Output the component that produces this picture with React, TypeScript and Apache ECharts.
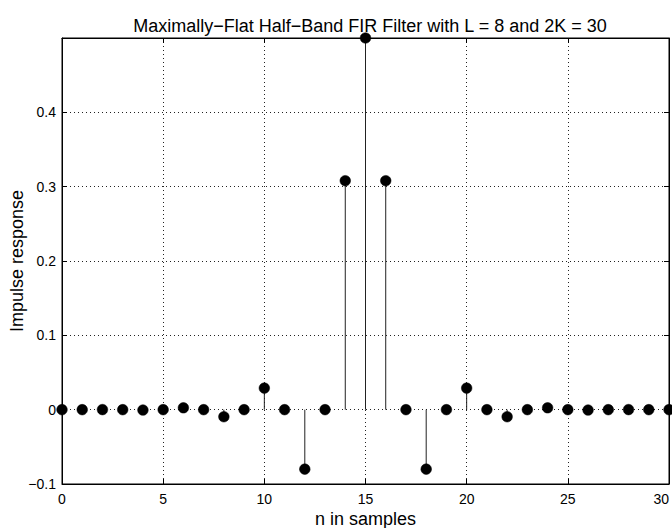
import React, { useEffect, useRef } from "react";
import * as echarts from "echarts";

const samples: number[] = [0, 1, 2, 3, 4, 5, 6, 7, 8, 9, 10, 11, 12, 13, 14, 15, 16, 17, 18, 19, 20, 21, 22, 23, 24, 25, 26, 27, 28, 29, 30];
const impulse: number[] = [
  0.0, 0, 0.0001, 0, -0.0005, 0, 0.0025, 0, -0.0095, 0, 0.029, 0, -0.08, 0, 0.308,
  0.5,
  0.308, 0, -0.08, 0, 0.029, 0, -0.0095, 0, 0.0025, 0, -0.0005, 0, 0.0001, 0, 0.0,
];
const xTicks: number[] = [0, 5, 10, 15, 20, 25, 30];
const yTicks: number[] = [-0.1, 0, 0.1, 0.2, 0.3, 0.4];

const FONT = "Liberation Sans, Arial, Helvetica, sans-serif";

export default function App() {
  const ref = useRef<HTMLDivElement>(null);
  useEffect(() => {
    if (!ref.current) return;
    const chart = echarts.init(ref.current, undefined, { renderer: "svg" });
    const fmtY = (v: number) => {
      const r = Math.round(v * 10) / 10;
      if (!yTicks.some((t) => Math.abs(t - r) < 1e-9)) return "";
      if (Math.abs(r) < 1e-9) return "0";
      return r < 0 ? "\u2212" + Math.abs(r).toString() : r.toString();
    };
    const fmtX = (v: number) => (xTicks.includes(v) ? String(v) : "");
    const gridLine = { show: true, lineStyle: { color: "#222", type: [1, 3] as any, width: 1 } };
    chart.setOption({
      animation: false,
      backgroundColor: "#fff",
      textStyle: { fontFamily: FONT },
      title: {
        text: "Maximally\u2212Flat Half\u2212Band FIR Filter with L = 8 and 2K = 30",
        left: 365,
        textAlign: "center",
        top: 12,
        textStyle: { fontSize: 18, fontWeight: "normal", color: "#000", fontFamily: FONT },
      },
      grid: {
        left: 62, right: 3, top: 38, bottom: 44,
        containLabel: false,
        outerBoundsMode: "none",
        show: true, borderColor: "#000", borderWidth: 1,
      },
      xAxis: [
        {
          type: "value",
          min: 0,
          max: 30,
          interval: 5,
          position: "bottom",
          name: "n in samples",
          nameLocation: "middle",
          nameGap: 26,
          nameMoveOverlap: false,
          nameTextStyle: { fontSize: 18, color: "#000", fontFamily: FONT },
          axisLine: { show: true, onZero: false, lineStyle: { color: "#000" } },
          axisTick: { show: true, inside: true, length: 5, lineStyle: { color: "#000" } },
          axisLabel: {
            show: true, color: "#000", fontSize: 14, margin: 8, formatter: fmtX, fontFamily: FONT,
            hideOverlap: false, alignMaxLabel: "right",
          },
          splitLine: gridLine,
        },
        {
          type: "value",
          min: 0,
          max: 30,
          interval: 5,
          position: "top",
          axisLine: { show: true, onZero: false, lineStyle: { color: "#000" } },
          axisTick: { show: true, inside: true, length: 5, lineStyle: { color: "#000" } },
          axisLabel: { show: false },
          splitLine: { show: false },
        },
      ],
      yAxis: [
        {
          type: "value",
          min: -0.1,
          max: 0.5,
          interval: 0.1,
          position: "left",
          name: "Impulse response",
          nameLocation: "middle",
          nameGap: 36,
          nameMoveOverlap: false,
          nameTextStyle: { fontSize: 18, color: "#000", fontFamily: FONT },
          axisLine: { show: true, onZero: false, lineStyle: { color: "#000" } },
          axisTick: { show: true, inside: true, length: 5, lineStyle: { color: "#000" } },
          axisLabel: { show: true, color: "#000", fontSize: 14, margin: 6, formatter: fmtY, fontFamily: FONT },
          splitLine: gridLine,
        },
        {
          type: "value",
          min: -0.1,
          max: 0.5,
          interval: 0.1,
          position: "right",
          axisLine: { show: true, onZero: false, lineStyle: { color: "#000" } },
          axisTick: { show: true, inside: true, length: 5, lineStyle: { color: "#000" } },
          axisLabel: { show: false },
          splitLine: { show: false },
        },
      ],
      series: [
        {
          type: "custom",
          xAxisIndex: 0,
          yAxisIndex: 0,
          clip: false,
          data: samples.map((n, i) => [n, impulse[i]]),
          renderItem: (params: any, api: any) => {
            const x = api.value(0);
            const y = api.value(1);
            const p = api.coord([x, y]);
            const b = api.coord([x, 0]);
            return {
              type: "group",
              children: [
                {
                  type: "line",
                  shape: { x1: b[0], y1: b[1], x2: p[0], y2: p[1] },
                  style: { stroke: "#222", lineWidth: 1 },
                },
                {
                  type: "circle",
                  shape: { cx: p[0], cy: p[1], r: 5.3 },
                  style: { fill: "#000", stroke: "#000", lineWidth: 0.5 },
                },
              ],
            };
          },
        },
      ],
    });
    return () => chart.dispose();
  }, []);
  return <div ref={ref} style={{ width: 672, height: 528, position: "fixed", left: 0, top: 0, background: "#fff" }} />;
}
